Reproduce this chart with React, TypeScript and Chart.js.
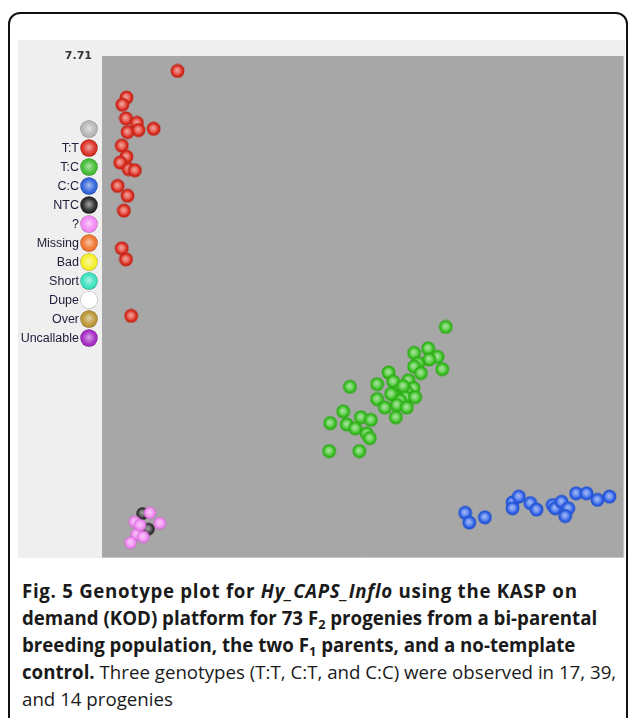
import React, { useEffect, useRef } from "react";
import { Chart, registerables } from "chart.js";

Chart.register(...registerables);

// ---- data (x: arbitrary 0..10, y: 0..7.71) ----
const yTickLabels = [7.71];

const ttPoints: [number, number][] = [
  [1.45, 7.48], [0.47, 7.07], [0.39, 6.96], [0.46, 6.75], [0.67, 6.68],
  [0.49, 6.54], [0.70, 6.57], [0.99, 6.59], [0.38, 6.33], [0.47, 6.16],
  [0.35, 6.07], [0.51, 5.97], [0.63, 5.95], [0.30, 5.71], [0.49, 5.56],
  [0.42, 5.33], [0.38, 4.75], [0.46, 4.58], [0.56, 3.71],
];

const tcPoints: [number, number][] = [
  [6.60, 3.54], [6.26, 3.21], [5.99, 3.14], [6.44, 3.08], [6.28, 3.04],
  [6.07, 2.98], [5.99, 2.93], [6.12, 2.83], [6.53, 2.89], [5.50, 2.84],
  [5.59, 2.70], [5.88, 2.72], [4.76, 2.62], [5.28, 2.66], [5.72, 2.57],
  [5.98, 2.60], [5.85, 2.54], [5.62, 2.48], [5.82, 2.46], [6.01, 2.46],
  [5.28, 2.43], [5.72, 2.41], [5.43, 2.30], [5.66, 2.34], [5.85, 2.30],
  [5.64, 2.15], [4.63, 2.24], [4.97, 2.15], [5.16, 2.11], [4.38, 2.06],
  [4.70, 2.04], [4.86, 1.98], [5.08, 1.90], [5.14, 1.83], [4.36, 1.63],
  [4.94, 1.63], [5.78, 2.63], [5.55, 2.51],
];

const ccPoints: [number, number][] = [
  [6.97, 0.68], [7.05, 0.53], [7.35, 0.61], [7.88, 0.84], [8.00, 0.93],
  [7.88, 0.75], [8.22, 0.83], [8.34, 0.73], [8.65, 0.80], [8.70, 0.75],
  [8.82, 0.85], [8.95, 0.75], [8.89, 0.63], [9.10, 0.98], [9.30, 0.98],
  [9.51, 0.88], [9.74, 0.93],
];

const unknownPoints: [number, number][] = [
  [0.92, 0.68], [0.63, 0.54], [1.11, 0.52], [0.67, 0.35], [0.79, 0.31],
  [0.55, 0.22], [0.73, 0.49],
];

const ntcPoints: [number, number][] = [
  [0.78, 0.67], [0.89, 0.43],
];

const legendLabels = ["", "T:T", "T:C", "C:C", "NTC", "?", "Missing", "Bad", "Short", "Dupe", "Over", "Uncallable"];
const legendColors = ["#b4b4b4", "#d8281c", "#3cba2c", "#2a5ed8", "#222222", "#f284f2", "#f07028", "#f6ee22", "#34e0bc", "#ffffff", "#b8922e", "#a224c2"];

// ---- helpers ----
function hexToRgb(h: string) {
  const v = parseInt(h.slice(1), 16);
  return [(v >> 16) & 255, (v >> 8) & 255, v & 255];
}
function mix(h: string, target: number, t: number) {
  const [r, g, b] = hexToRgb(h);
  const f = (c: number) => Math.round(c + (target - c) * t);
  return `rgb(${f(r)},${f(g)},${f(b)})`;
}

function makeBall(color: string, r: number, ring: boolean) {
  const size = Math.ceil(r * 2 + 2);
  const c = document.createElement("canvas");
  c.width = size;
  c.height = size;
  const ctx = c.getContext("2d")!;
  const cx = size / 2;
  const g = ctx.createRadialGradient(cx - r * 0.1, cx - r * 0.15, 0, cx, cx, r);
  g.addColorStop(0, mix(color, 255, 0.6));
  g.addColorStop(0.5, mix(color, 255, 0.3));
  g.addColorStop(0.82, color);
  g.addColorStop(1, mix(color, 0, 0.2));
  ctx.beginPath();
  ctx.arc(cx, cx, r, 0, Math.PI * 2);
  ctx.fillStyle = g;
  ctx.fill();
  if (ring) {
    ctx.lineWidth = 1.2;
    ctx.strokeStyle = mix(color, 0, 0.1);
    ctx.stroke();
  }
  return c;
}

function makeLegendBall(color: string, r: number) {
  const size = Math.ceil(r * 2 + 2);
  const c = document.createElement("canvas");
  c.width = size;
  c.height = size;
  const ctx = c.getContext("2d")!;
  const cx = size / 2;
  const g = ctx.createRadialGradient(cx, cx - r * 0.1, 0, cx, cx, r);
  g.addColorStop(0, mix(color, 255, 0.6));
  g.addColorStop(0.6, mix(color, 255, 0.15));
  g.addColorStop(0.9, color);
  g.addColorStop(1, mix(color, 0, 0.35));
  ctx.beginPath();
  ctx.arc(cx, cx, r, 0, Math.PI * 2);
  ctx.fillStyle = g;
  ctx.fill();
  return c;
}

const bgPlugin = {
  id: "bgPlugin",
  beforeDraw(chart: any) {
    const { ctx, width, height, chartArea } = chart;
    ctx.save();
    ctx.fillStyle = "#efefef";
    ctx.fillRect(0, 0, width, height);
    ctx.fillStyle = "#a7a7a7";
    ctx.fillRect(chartArea.left, chartArea.top, chartArea.right - chartArea.left, chartArea.bottom - chartArea.top);
    ctx.strokeStyle = "#c4c4c4";
    ctx.lineWidth = 1;
    ctx.beginPath();
    ctx.moveTo(chartArea.right + 0.5, chartArea.top);
    ctx.lineTo(chartArea.right + 0.5, chartArea.bottom + 0.5);
    ctx.lineTo(chartArea.left, chartArea.bottom + 0.5);
    ctx.stroke();
    ctx.restore();
  },
};

const legendPlugin = {
  id: "sideLegend",
  afterDraw(chart: any) {
    const ctx = chart.ctx;
    ctx.save();
    const top = 89;
    const step = 19;
    const bx = 71;
    ctx.font = "12.5px 'Liberation Sans', Arial, sans-serif";
    ctx.textAlign = "right";
    ctx.textBaseline = "middle";
    legendLabels.forEach((lab, i) => {
      const y = top + i * step;
      const img = makeLegendBall(legendColors[i], 8.7);
      ctx.drawImage(img, bx - img.width / 2, y - img.height / 2);
      ctx.fillStyle = "#1d1d3a";
      ctx.fillText(lab, bx - 10, y + 0.5);
    });
    ctx.restore();
  },
};

export default function App() {
  const ref = useRef<HTMLCanvasElement | null>(null);

  useEffect(() => {
    if (!ref.current) return;
    const toXY = (arr: [number, number][]) => arr.map(([x, y]) => ({ x, y }));
    const R = 6.3;
    const chart = new Chart(ref.current, {
      type: "scatter",
      data: {
        datasets: [
          { label: "T:T", data: toXY(ttPoints), pointStyle: makeBall("#dc2a1c", R, true) as any },
          { label: "T:C", data: toXY(tcPoints), pointStyle: makeBall("#36c01e", R, true) as any },
          { label: "C:C", data: toXY(ccPoints), pointStyle: makeBall("#2a5ee8", R, true) as any },
          { label: "?", data: toXY(unknownPoints), pointStyle: makeBall("#f07ef0", R, false) as any },
          { label: "NTC", data: toXY(ntcPoints), pointStyle: makeBall("#262626", R, false) as any },
        ],
      },
      options: {
        responsive: false,
        animation: false,
        events: [],
        layout: { autoPadding: false, padding: { top: 16, right: 2, bottom: 1, left: 0 } },
        plugins: { legend: { display: false }, tooltip: { enabled: false } },
        scales: {
          x: { type: "linear", min: 0, max: 10, display: false },
          y: {
            type: "linear",
            min: 0,
            max: 7.71,
            grid: { display: false, drawTicks: false },
            border: { display: false },
            afterBuildTicks: (scale: any) => {
              scale.ticks = yTickLabels.map((v) => ({ value: v }));
            },
            afterFit: (scale: any) => {
              scale.width = 84;
              scale.paddingTop = 0;
              scale.paddingBottom = 0;
            },
            ticks: {
              padding: 10,
              color: "#333333",
              font: { family: "'DejaVu Sans', sans-serif", size: 11, weight: "bold" },
              callback: (v: any) => Number(v).toFixed(2),
            },
          },
        },
      },
      plugins: [bgPlugin, legendPlugin],
    } as any);
    return () => chart.destroy();
  }, []);

  const sub: React.CSSProperties = { fontSize: "0.68em", verticalAlign: "-0.28em", lineHeight: 0 };

  return (
    <div style={{ position: "absolute", left: 0, top: 0, width: 629, height: 718, overflow: "hidden", background: "#fff" }}>
      <div
        style={{
          position: "absolute",
          left: 8,
          top: 12,
          width: 620,
          height: 760,
          boxSizing: "border-box",
          border: "2px solid #111",
          borderRadius: 12,
        }}
      />
      <canvas ref={ref} width={607} height={518} style={{ position: "absolute", left: 18, top: 40, width: 607, height: 518 }} />
      <div
        style={{
          position: "absolute",
          left: 22,
          top: 577,
          width: 606,
          fontFamily: "'Open Sans', sans-serif",
          fontSize: 18.7,
          lineHeight: "27px",
          color: "#1a1a1a",
          whiteSpace: "nowrap",
        }}
      >
        <div style={{ fontWeight: 700, letterSpacing: "0.7px" }}>
          Fig. 5 Genotype plot for <i>Hy_CAPS_Inflo</i> using the KASP on
        </div>
        <div style={{ fontWeight: 700 }}>
          demand (KOD) platform for 73 F<sub style={sub}>2</sub> progenies from a bi-parental
        </div>
        <div style={{ fontWeight: 700 }}>
          breeding population, the two F<sub style={sub}>1</sub> parents, and a no-template
        </div>
        <div>
          <b>control.</b> Three genotypes (T:T, C:T, and C:C) were observed in 17, 39,
        </div>
        <div>and 14 progenies</div>
      </div>
    </div>
  );
}
